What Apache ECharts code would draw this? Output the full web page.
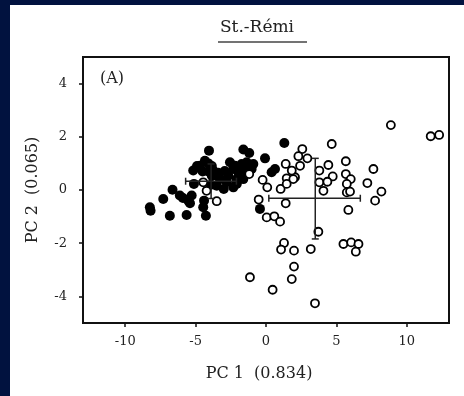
<!DOCTYPE html>
<html>
<head>
<meta charset="utf-8">
<script src="https://cdn.jsdelivr.net/npm/echarts@6/dist/echarts.min.js"></script>
<style>
  html, body { margin: 0; padding: 0; background: #01123f; }
  #chart { width: 464px; height: 396px; }
</style>
</head>
<body>
<div id="chart"></div>
<script>
// PC scores
const filledPoints = [
  [-8.25, -0.65], [-8.2, -0.78], [-7.3, -0.34], [-6.83, -0.97], [-6.64, 0.01],
  [-6.12, -0.21], [-5.9, -0.3], [-5.64, -0.94], [-5.52, -0.4], [-5.28, -0.21],
  [-5.4, -0.5], [-5.12, 0.23], [-5.17, 0.73], [-4.9, 0.9], [-4.69, 0.91],
  [-4.46, -0.65], [-4.27, -0.97], [-4.4, -0.4], [-4.05, 1.48], [-4.34, 1.1],
  [-4.1, 1.0], [-3.75, 0.73], [-3.5, 0.54], [-3.27, 0.41], [-4.5, 0.7],
  [-4.1, 0.7], [-3.9, 0.2], [-3.85, 0.9], [-3.4, 0.65], [-2.93, 0.71],
  [-3.85, 0.54], [-2.68, 0.54], [-1.97, 0.67], [-1.49, 0.73], [-1.02, 0.79],
  [-1.61, 0.41], [-2.08, 0.29], [-2.79, 0.29], [-3.5, 0.16], [-3.0, 0.04],
  [-2.32, 0.1], [-2.56, 1.04], [-2.2, 0.91], [-1.73, 0.98], [-1.37, 1.04],
  [-0.9, 0.98], [-1.61, 1.52], [-1.19, 1.39], [-0.07, 1.19], [1.3, 1.77],
  [0.64, 0.79], [0.4, 0.67], [-0.43, -0.71], [-2.33, 0.79], [-2.08, 0.41],
  [-2.08, 0.23]
];
const openPoints = [
  [8.87, 2.44], [11.7, 2.02], [12.3, 2.07], [4.67, 1.73], [2.58, 1.54],
  [2.3, 1.27], [2.94, 1.19], [1.4, 0.98], [2.42, 0.91], [5.67, 1.08],
  [4.43, 0.94], [7.63, 0.79], [3.79, 0.73], [5.67, 0.6], [4.74, 0.51],
  [2.06, 0.48], [1.47, 0.44], [6.02, 0.41], [-0.24, 0.38], [3.79, 0.29],
  [4.36, 0.31], [0.09, 0.1], [1.04, 0.04], [5.74, 0.23], [7.2, 0.26],
  [4.08, -0.03], [5.74, -0.09], [5.97, -0.06], [8.2, -0.06], [7.75, -0.4],
  [-0.52, -0.36], [1.4, -0.5], [5.85, -0.75], [0.05, -1.03], [0.59, -0.99],
  [1.0, -1.19], [3.72, -1.57], [1.28, -1.99], [1.07, -2.24], [1.99, -2.28],
  [3.18, -2.22], [5.5, -2.03], [6.05, -1.97], [6.57, -2.03], [6.38, -2.32],
  [1.99, -2.88], [1.83, -3.35], [-1.14, -3.28], [0.47, -3.75], [3.48, -4.26],
  [-1.19, 0.6], [-3.5, -0.42], [-4.46, 0.29], [-4.22, -0.03], [1.83, 0.73],
  [1.47, 0.23], [1.94, 0.41]
];
// group means: [x, y, xLow, xHigh, yLow, yHigh]
const groupMeans = [
  [-3.9, 0.33, -5.71, -2.1, -0.32, 0.98],
  [3.5, -0.31, 0.2, 6.7, -1.84, 1.19]
];
const xTicks = [-10, -5, 0, 5, 10];
const yTicks = [-4, -2, 0, 2, 4];

const chart = echarts.init(document.getElementById('chart'));
const ink = '#222';
const serif = 'DejaVu Serif';

const option = {
  backgroundColor: '#01123f',
  animation: false,
  graphic: [
    { type: 'rect', shape: { x: 10, y: 5, width: 454, height: 391 }, style: { fill: '#fff' }, z: -10 },
    { type: 'text', x: 257, y: 28, style: { text: 'St.-Rémi', fill: ink, font: '17px "DejaVu Serif"', textAlign: 'center', textVerticalAlign: 'middle' } },
    { type: 'line', shape: { x1: 218, y1: 42, x2: 307, y2: 42 }, style: { stroke: '#444', lineWidth: 1.5 } },
    { type: 'text', x: 100, y: 79, style: { text: '(A)', fill: ink, font: '16px "DejaVu Serif"', textVerticalAlign: 'middle' } }
  ],
  grid: {
    left: 83, right: 15, top: 57, bottom: 73,
    show: true, borderColor: '#111', borderWidth: 2, backgroundColor: 'transparent'
  },
  xAxis: {
    type: 'value', min: -13, max: 13,
    name: 'PC 1  (0.834)', nameLocation: 'middle', nameGap: 43,
    nameTextStyle: { fontFamily: serif, fontSize: 16, color: ink, padding: [0, 14, 0, 0] },
    axisLine: { show: false, onZero: false },
    splitLine: { show: false },
    axisTick: { show: true, length: 4, customValues: xTicks, lineStyle: { color: '#111', width: 1.5 } },
    axisLabel: { customValues: xTicks, margin: 12, fontFamily: serif, fontSize: 13, color: ink }
  },
  yAxis: {
    type: 'value', min: -5, max: 5,
    name: 'PC 2  (0.065)', nameLocation: 'middle', nameGap: 42,
    nameTextStyle: { fontFamily: serif, fontSize: 16, color: ink },
    axisLine: { show: false, onZero: false },
    splitLine: { show: false },
    axisTick: { show: true, length: 4, customValues: yTicks, lineStyle: { color: '#111', width: 1.5 } },
    axisLabel: { customValues: yTicks, margin: 16, fontFamily: serif, fontSize: 13, color: ink }
  },
  series: [
    {
      type: 'scatter', data: filledPoints, symbolSize: 10,
      itemStyle: { color: '#000', opacity: 1 }
    },
    {
      type: 'scatter', data: openPoints, symbolSize: 8,
      itemStyle: { color: '#fff', borderColor: '#000', borderWidth: 1.8, opacity: 1 }
    },
    {
      type: 'custom', data: groupMeans,
      encode: { x: [0, 2, 3], y: [1, 4, 5] },
      z: 5,
      renderItem: function (params, api) {
        const c = api.coord([api.value(0), api.value(1)]);
        const l = api.coord([api.value(2), api.value(1)]);
        const r = api.coord([api.value(3), api.value(1)]);
        const b = api.coord([api.value(0), api.value(4)]);
        const t = api.coord([api.value(0), api.value(5)]);
        const cap = 3.5;
        const st = { stroke: '#222', lineWidth: 1.5 };
        const seg = (x1, y1, x2, y2) => ({ type: 'line', shape: { x1, y1, x2, y2 }, style: st });
        return {
          type: 'group',
          children: [
            seg(l[0], c[1], r[0], c[1]),
            seg(c[0], t[1], c[0], b[1]),
            seg(l[0], c[1] - cap, l[0], c[1] + cap),
            seg(r[0], c[1] - cap, r[0], c[1] + cap),
            seg(c[0] - cap, t[1], c[0] + cap, t[1]),
            seg(c[0] - cap, b[1], c[0] + cap, b[1])
          ]
        };
      }
    }
  ]
};

chart.setOption(option);
</script>
</body>
</html>
